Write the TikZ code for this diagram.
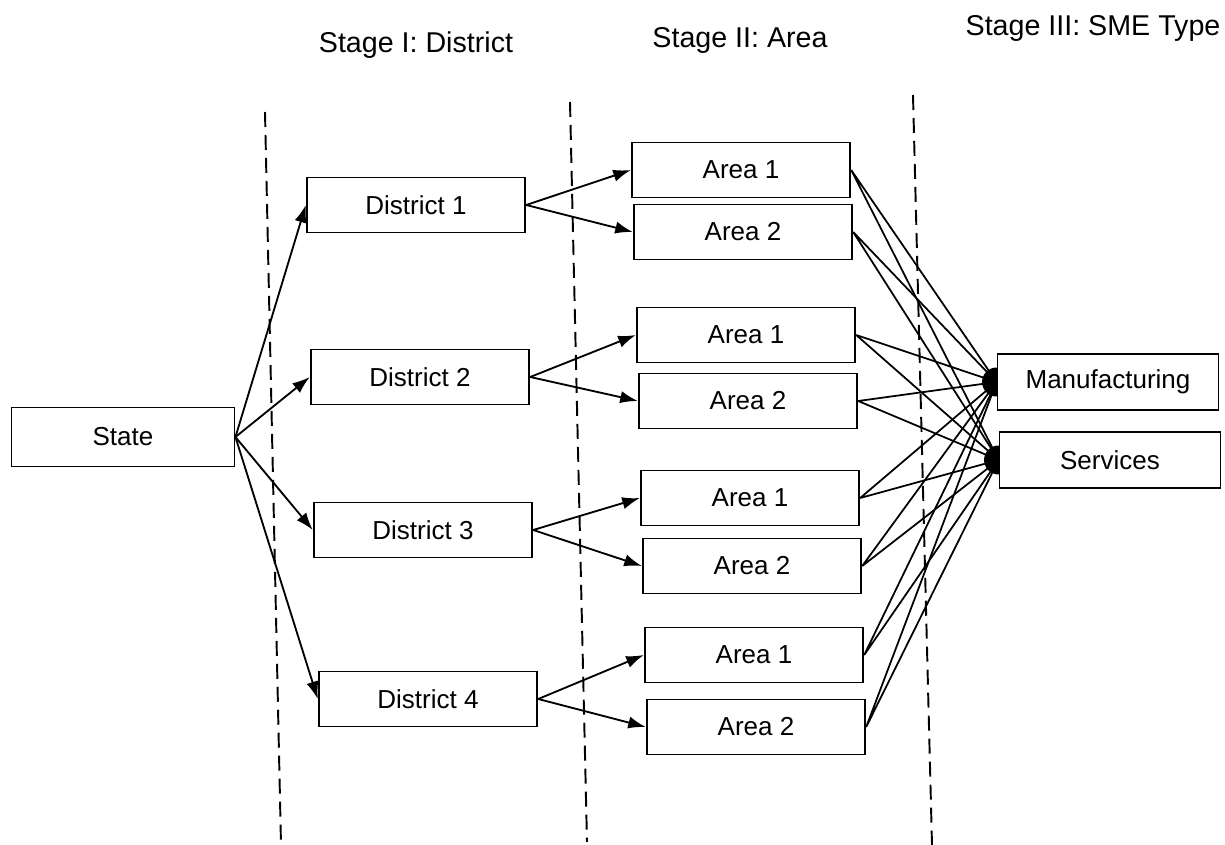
\documentclass[tikz,border=0pt]{standalone}
\usepackage{fontspec}
\setmainfont{Liberation Sans}
\usetikzlibrary{arrows.meta,backgrounds,positioning}
\tikzset{rbox/.style={rectangle, draw=black, fill=white, line width=1.1pt, minimum width=4.37cm, minimum height=1.1cm, inner sep=1pt}}
\tikzset{sbox/.style={rbox, minimum width=4.46cm, minimum height=1.18cm}}
\tikzset{tbox/.style={rbox, minimum width=4.42cm, minimum height=1.12cm}}
\tikzset{jdot/.style={circle, fill=black, inner sep=0pt, minimum size=0.58cm}}
\tikzset{arr/.style={-{Latex[length=10pt,width=7pt]}, line width=1.05pt}}
\tikzset{link/.style={line width=1pt}}
\tikzset{sep/.style={dash pattern=on 0.3cm off 0.16cm, line width=1.1pt}}
\tikzset{stitle/.style={inner sep=0pt, anchor=base, font=\fontsize{16.3pt}{19pt}\selectfont}}

\begin{document}
\begin{tikzpicture}[x=0.02cm, y=-0.02cm, font=\fontsize{14.8pt}{17pt}\selectfont]
    \useasboundingbox (0,0) rectangle (1225,845);

    \node[stitle] (t1) at (416,52) {Stage I: District};
    \node[stitle] (t2) at (740,48) {Stage II: Area};
    \node[stitle] (t3) at (1093,35) {Stage III: SME Type};

    \coordinate (l1a) at (265,112);
    \coordinate (l1b) at (281,845);
    \coordinate (l2a) at (570,102);
    \coordinate (l2b) at (587,842);
    \coordinate (l3a) at (913,95);
    \coordinate (l3b) at (932,845);
    \draw[sep] (l1a) -- (l1b);
    \draw[sep] (l2a) -- (l2b);
    \draw[sep] (l3a) -- (l3b);

    \node[sbox] (st) at (123,437) {State};

    \node[rbox] (d1) at (416,205) {District 1};
    \node[rbox] (d2) at (420,377) {District 2};
    \node[rbox] (d3) at (423,530) {District 3};
    \node[rbox] (d4) at (428,699) {District 4};

    \node[rbox] (a11) at (741,170) {Area 1};
    \node[rbox] (a12) at (743,232) {Area 2};
    \node[rbox] (a21) at (746,335) {Area 1};
    \node[rbox] (a22) at (748,401) {Area 2};
    \node[rbox] (a31) at (750,498) {Area 1};
    \node[rbox] (a32) at (752,566) {Area 2};
    \node[rbox] (a41) at (754,655) {Area 1};
    \node[rbox] (a42) at (756,727) {Area 2};

    \node[tbox] (mf) at (1108,382) {Manufacturing};
    \node[tbox] (sv) at (1110,460) {Services};

    \draw[arr] (st.east) -- (d1.west);
    \draw[arr] (st.east) -- (d2.west);
    \draw[arr] (st.east) -- (d3.west);
    \draw[arr] (st.east) -- (d4.west);

    \draw[arr] (d1.east) -- (a11.west);
    \draw[arr] (d1.east) -- (a12.west);
    \draw[arr] (d2.east) -- (a21.west);
    \draw[arr] (d2.east) -- (a22.west);
    \draw[arr] (d3.east) -- (a31.west);
    \draw[arr] (d3.east) -- (a32.west);
    \draw[arr] (d4.east) -- (a41.west);
    \draw[arr] (d4.east) -- (a42.west);

    \begin{pgfonlayer}{background}
    \node[jdot] (mdot) at (mf.west) {};
    \node[jdot] (sdot) at (sv.west) {};
    \draw[link] (a11.east) -- (mdot.center) (a11.east) -- (sdot.center);
    \draw[link] (a12.east) -- (mdot.center) (a12.east) -- (sdot.center);
    \draw[link] (a21.east) -- (mdot.center) (a21.east) -- (sdot.center);
    \draw[link] (a22.east) -- (mdot.center) (a22.east) -- (sdot.center);
    \draw[link] (a31.east) -- (mdot.center) (a31.east) -- (sdot.center);
    \draw[link] (a32.east) -- (mdot.center) (a32.east) -- (sdot.center);
    \draw[link] (a41.east) -- (mdot.center) (a41.east) -- (sdot.center);
    \draw[link] (a42.east) -- (mdot.center) (a42.east) -- (sdot.center);
    \end{pgfonlayer}
\end{tikzpicture}
\end{document}
